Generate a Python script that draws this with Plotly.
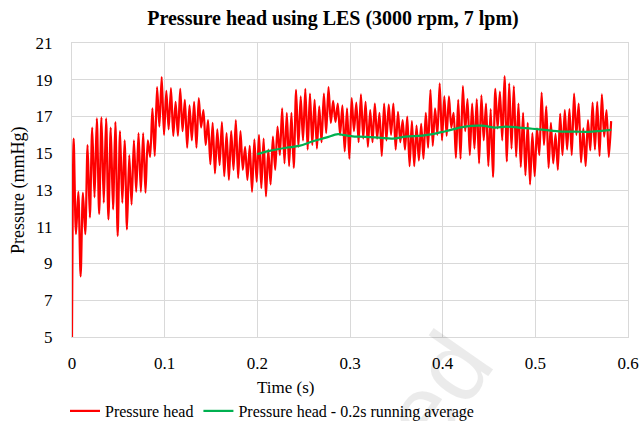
import numpy as np
import plotly.graph_objects as go

# Pressure head readings (mmHg): start value, then alternating peaks/troughs
start_time = [0.0]
start_value = [5.0]
seg_a = [15.8, 10.6, 12.9, 8.3, 12.85, 10.6, 15.45, 11.5, 16.4, 12.6, 16.9, 11.7, 16.95, 12.3,
         16.9, 11.4, 16.4, 11.95, 16.7, 10.5, 16.2, 12.3, 15.7, 10.85, 14.9, 12.2, 15.7, 12.9,
         16.1, 12.9, 16.1, 12.85, 15.7, 14.8, 17.45, 14.85, 18.6, 16.45, 19.15, 16.0, 18.4]
seg_b = [16.3, 18.55, 15.95, 17.8, 15.95, 18.5, 16.2, 17.9, 15.3, 17.6, 15.7, 17.8, 15.3, 18.0,
         16.4, 17.35, 15.45, 16.8, 14.4, 16.65, 13.9, 16.3, 14.35, 16.7, 13.75, 16.1, 13.55, 16.2,
         14.1, 16.8, 13.65, 16.2, 14.1, 15.35, 13.55, 15.4, 12.9, 15.75, 13.45, 16.0]
seg_c = [13.1, 15.8, 12.65, 15.2, 13.3, 15.9, 14.1, 16.45, 14.9, 17.45, 14.45, 17.2, 14.3, 17.2,
         14.2, 18.45, 15.35, 18.1, 15.7, 18.5, 15.2, 18.25, 15.45, 17.9, 15.25, 17.55, 15.6, 18.25,
         16.1, 18.6, 16.65, 17.85, 16.7, 17.7, 16.0, 17.6, 15.1, 17.45, 14.7, 18.0]
seg_d = [16.2, 17.75, 15.6, 18.2, 15.8, 17.8, 15.35, 17.35, 15.6, 17.7, 15.8, 17.2, 14.85, 17.7,
         15.7, 17.65, 16.0, 17.7, 15.2, 17.25, 15.6, 16.8, 15.2, 17.0, 14.3, 16.75, 14.3, 16.5,
         14.6, 16.6, 14.7, 17.2, 15.3, 18.45, 15.4, 17.45, 16.0, 18.8, 15.7, 18.1]
seg_e = [15.95, 18.1, 16.4, 17.2, 14.75, 17.9, 14.7, 18.65, 16.2, 17.95, 14.9, 17.7, 15.25, 17.95,
         14.45, 18.15, 15.7, 17.7, 14.3, 17.4, 13.7, 18.5, 16.35, 18.35, 15.7, 19.2, 14.55, 18.8,
         15.25, 18.65, 14.8, 17.7, 14.25, 17.2, 13.8, 16.65, 13.3, 16.1, 13.75, 16.35]
seg_f = [14.9, 18.3, 15.45, 17.55, 14.2, 16.65, 14.45, 16.05, 14.1, 17.15, 14.9, 17.35, 15.2, 17.4,
         14.9, 18.25, 16.0, 17.7, 14.5, 16.35, 14.3, 16.8, 15.15, 17.75, 15.2, 17.8, 14.85, 18.2,
         15.9, 17.35, 14.8, 16.75]
first_peak_time = 0.0018
half_period = 0.0025

# 0.2 s running average
avg_time = [0.200, 0.213, 0.231, 0.245, 0.260, 0.274, 0.287, 0.292, 0.303, 0.310, 0.331, 0.346,
            0.360, 0.378, 0.389, 0.403, 0.424, 0.442, 0.457, 0.468, 0.482, 0.493, 0.504, 0.510,
            0.528, 0.543, 0.557, 0.571, 0.582]
avg_value = [14.95, 15.13, 15.30, 15.40, 15.65, 15.85, 16.04, 16.00, 15.92, 15.90, 15.85, 15.80,
             15.90, 15.96, 16.04, 16.20, 16.45, 16.50, 16.40, 16.45, 16.40, 16.35, 16.30, 16.27,
             16.18, 16.18, 16.16, 16.22, 16.27]

x_ticks = [0, 0.1, 0.2, 0.3, 0.4, 0.5, 0.6]
x_tick_labels = ["0", "0.1", "0.2", "0.3", "0.4", "0.5", "0.6"]
y_ticks = [5, 7, 9, 11, 13, 15, 17, 19, 21]

osc = seg_a + seg_b + seg_c + seg_d + seg_e + seg_f
osc_time = list(np.round(first_peak_time + half_period * np.arange(len(osc)), 5))
red_t = start_time + osc_time
red_v = start_value + osc

FONT = "Liberation Serif"
GRID = "#d9d9d9"
W, H = 644, 421
L, R, T, B = 72, 16, 43, 84
PW, PH = W - L - R, H - T - B


def px_x(px):
    return (px - L) / PW


def px_y(py):
    return (H - B - py) / PH


fig = go.Figure()
fig.add_trace(go.Scatter(x=red_t, y=red_v, mode="lines", name="Pressure head",
                         line=dict(color="#ff0000", width=2.2, shape="spline", smoothing=0.8)))
fig.add_trace(go.Scatter(x=avg_time, y=avg_value, mode="lines",
                         name="Pressure head - 0.2s running average",
                         line=dict(color="#00b050", width=2.2, shape="spline", smoothing=1)))

fig.update_layout(
    width=W, height=H,
    margin=dict(l=L, r=R, t=T, b=B, autoexpand=False),
    paper_bgcolor="white", plot_bgcolor="white",
    font=dict(family=FONT, size=16, color="black"),
    title=dict(text="<b>Pressure head using LES (3000 rpm, 7 lpm)</b>",
               x=333 / W, xref="container", xanchor="center",
               y=1 - 18 / H, yref="container", yanchor="middle",
               font=dict(family=FONT, size=20, color="black")),
    xaxis=dict(range=[0, 0.6], tickvals=x_ticks, ticktext=x_tick_labels,
               showgrid=True, gridcolor=GRID, gridwidth=1,
               showline=True, linecolor=GRID, linewidth=1, mirror=True,
               zeroline=False, ticks="", ticklabelstandoff=11, automargin=False,
               tickfont=dict(family=FONT, size=17)),
    yaxis=dict(range=[5, 21], tickvals=y_ticks,
               showgrid=True, gridcolor=GRID, gridwidth=1,
               showline=True, linecolor=GRID, linewidth=1, mirror=True,
               zeroline=False, ticks="", ticklabelstandoff=15, automargin=False,
               tickfont=dict(family=FONT, size=17)),
    showlegend=True,
    legend=dict(orientation="h", x=px_x(65), xanchor="left",
                y=px_y(411), yanchor="middle",
                font=dict(family=FONT, size=16), bgcolor="rgba(0,0,0,0)",
                itemwidth=30, tracegroupgap=0),
    annotations=[
        dict(text="Time (s)", x=px_x(285), xref="paper", y=px_y(387), yref="paper",
             xanchor="center", yanchor="middle", showarrow=False,
             font=dict(family=FONT, size=17)),
        dict(text="Pressure (mmHg)", x=px_x(18), xref="paper", y=0.5, yref="paper",
             xanchor="center", yanchor="middle", textangle=-90, showarrow=False,
             font=dict(family=FONT, size=18)),
        dict(text="ed", x=px_x(436), xref="paper", y=px_y(390), yref="paper",
             xanchor="center", yanchor="middle", textangle=-55, showarrow=False,
             font=dict(family="Liberation Sans", size=100, color="rgba(0,0,0,0.08)")),
    ],
)

fig.write_html("out.html")
